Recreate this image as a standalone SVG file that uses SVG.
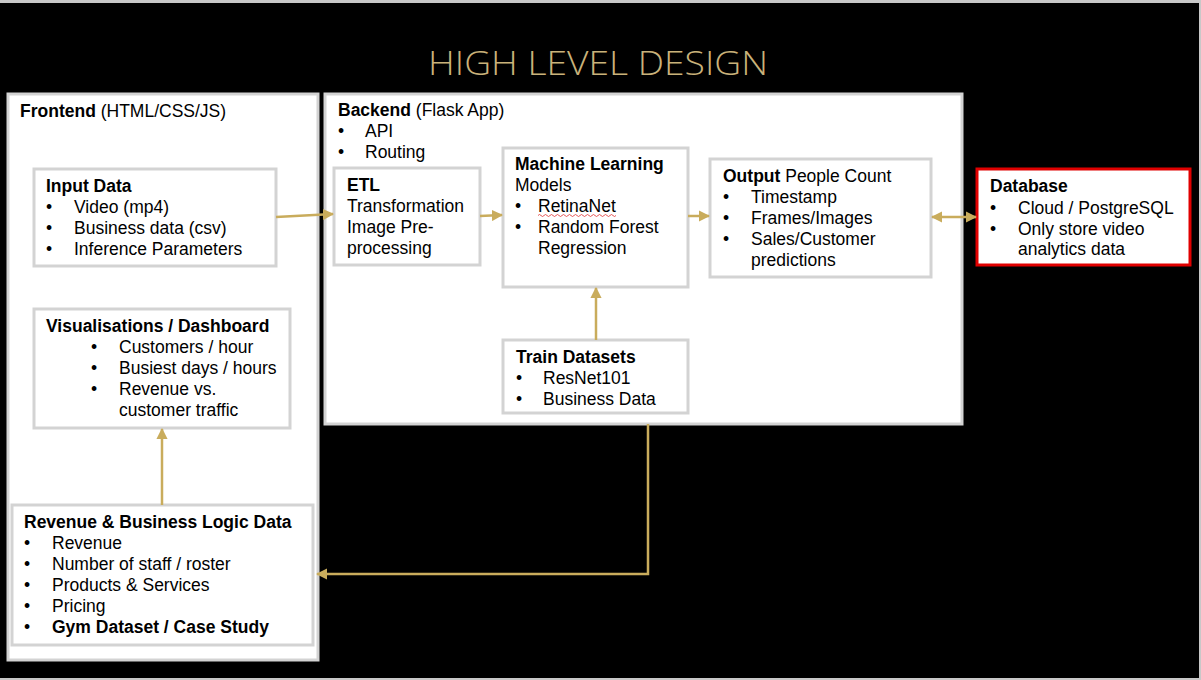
<svg xmlns="http://www.w3.org/2000/svg" width="1201" height="680" viewBox="0 0 1201 680">
<defs>
<style>
.box{fill:#fff;stroke:#d3d3d3;stroke-width:3}
.db{fill:#fff;stroke:#e00000;stroke-width:3}
text{font-family:"Liberation Sans",Arial,sans-serif;font-size:17.5px;fill:#000}
.b{font-weight:bold}
.c{fill:none;stroke:#c9ac5c;stroke-width:2.5}
.title{font-family:"Open Sans","Lato",sans-serif;font-weight:300;font-size:33px;fill:#c9b27a}
</style>
<marker id="ah" viewBox="0 0 10 10" refX="9" refY="5" markerWidth="4.5" markerHeight="4.5" orient="auto-start-reverse" markerUnits="strokeWidth">
<path d="M0,0 L10,5 L0,10 z" fill="#c9ac5c"/>
</marker>
</defs>
<rect x="0" y="0" width="1201" height="680" fill="#c8c8c8"/>
<rect x="0" y="3" width="1199" height="675" fill="#000"/>
<text class="title" x="598" y="75" text-anchor="middle" textLength="340" lengthAdjust="spacingAndGlyphs">HIGH LEVEL DESIGN</text>

<g id="frontend">
<rect class="box" x="8" y="94" width="310" height="566"/>
<text x="20" y="117"><tspan class="b">Frontend</tspan> (HTML/CSS/JS)</text>
</g>
<g id="backend">
<rect class="box" x="325" y="94" width="637" height="330"/>
<text x="338" y="116"><tspan class="b">Backend</tspan> (Flask App)</text>
<text x="338" y="137">•</text><text x="365" y="137">API</text>
<text x="338" y="158">•</text><text x="365" y="158">Routing</text>
</g>
<g id="input">
<rect class="box" x="34" y="169" width="242" height="97"/>
<text class="b" x="46" y="192">Input Data</text>
<text x="46" y="213">•</text><text x="74" y="213">Video (mp4)</text>
<text x="46" y="234">•</text><text x="74" y="234">Business data (csv)</text>
<text x="46" y="255">•</text><text x="74" y="255">Inference Parameters</text>
</g>
<g id="vis">
<rect class="box" x="34" y="309" width="256" height="119"/>
<text class="b" x="46" y="332">Visualisations / Dashboard</text>
<text x="91" y="353">•</text><text x="119" y="353">Customers / hour</text>
<text x="91" y="374">•</text><text x="119" y="374">Busiest days / hours</text>
<text x="91" y="395">•</text><text x="119" y="395">Revenue vs.</text>
<text x="119" y="416">customer traffic</text>
</g>
<g id="revenue">
<rect class="box" x="12" y="505" width="301" height="140"/>
<text class="b" x="24" y="528">Revenue &amp; Business Logic Data</text>
<text x="24" y="549">•</text><text x="52" y="549">Revenue</text>
<text x="24" y="570">•</text><text x="52" y="570">Number of staff / roster</text>
<text x="24" y="591">•</text><text x="52" y="591">Products &amp; Services</text>
<text x="24" y="612">•</text><text x="52" y="612">Pricing</text>
<text x="24" y="633">•</text><text class="b" x="52" y="633">Gym Dataset / Case Study</text>
</g>
<g id="etl">
<rect class="box" x="334" y="168" width="146" height="97"/>
<text class="b" x="347" y="191">ETL</text>
<text x="347" y="212">Transformation</text>
<text x="347" y="233">Image Pre-</text>
<text x="347" y="254">processing</text>
</g>
<g id="ml">
<rect class="box" x="503" y="148" width="185" height="139"/>
<text class="b" x="515" y="170">Machine Learning</text>
<text x="515" y="191">Models</text>
<text x="515" y="212">•</text><text x="538" y="212">RetinaNet</text>
<path d="M538,215.5 q1.5,-2 3,0 t3,0 t3,0 t3,0 t3,0 t3,0 t3,0 t3,0 t3,0 t3,0 t3,0 t3,0 t3,0 t3,0 t3,0 t3,0 t3,0 t3,0 t3,0 t3,0 t3,0 t3,0 t3,0 t3,0 t3,0 t3,0" fill="none" stroke="#e03030" stroke-width="0.8"/>
<text x="515" y="233">•</text><text x="538" y="233">Random Forest</text>
<text x="538" y="254">Regression</text>
</g>
<g id="output">
<rect class="box" x="710" y="159" width="221" height="118"/>
<text x="723" y="182"><tspan class="b">Output</tspan> People Count</text>
<text x="723" y="203">•</text><text x="751" y="203">Timestamp</text>
<text x="723" y="224">•</text><text x="751" y="224">Frames/Images</text>
<text x="723" y="245">•</text><text x="751" y="245">Sales/Customer</text>
<text x="751" y="266">predictions</text>
</g>
<g id="train">
<rect class="box" x="503" y="340" width="185" height="73"/>
<text class="b" x="516" y="363">Train Datasets</text>
<text x="516" y="384">•</text><text x="543" y="384">ResNet101</text>
<text x="516" y="405">•</text><text x="543" y="405">Business Data</text>
</g>
<g id="database">
<rect class="db" x="977" y="169" width="213" height="96"/>
<text class="b" x="990" y="192">Database</text>
<text x="990" y="214">•</text><text x="1018" y="214">Cloud / PostgreSQL</text>
<text x="990" y="235">•</text><text x="1018" y="235">Only store video</text>
<text x="1018" y="255">analytics data</text>
</g>

<g id="connectors">
<path class="c" d="M276,217 L333,214" marker-end="url(#ah)"/>
<path class="c" d="M480,216 L502,215" marker-end="url(#ah)"/>
<path class="c" d="M688,216 L709,216" marker-end="url(#ah)"/>
<path class="c" d="M932,217 L976,217" marker-start="url(#ah)" marker-end="url(#ah)"/>
<path class="c" d="M596,340 L596,288" marker-end="url(#ah)"/>
<path class="c" d="M648,424 L648,574 L317,574" marker-end="url(#ah)"/>
<path class="c" d="M162,505 L162,429" marker-end="url(#ah)"/>
</g>
</svg>
